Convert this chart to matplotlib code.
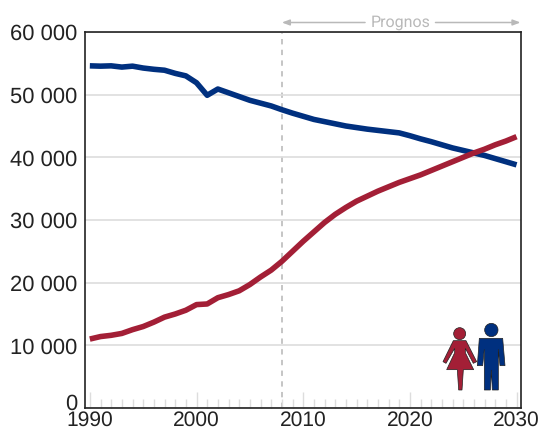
import matplotlib
matplotlib.use("Agg")
import matplotlib.pyplot as plt
from matplotlib.patches import Polygon, Ellipse
from matplotlib.ticker import FuncFormatter, MultipleLocator
from matplotlib.transforms import ScaledTranslation

plt.rcParams['font.family'] = ['Liberation Sans', 'DejaVu Sans']
plt.rcParams['text.hinting'] = 'none'
plt.rcParams['text.hinting_factor'] = 1

years = list(range(1990, 2031))
men = [54600, 54550, 54600, 54400, 54550, 54250, 54050, 53900, 53400, 53000,
       51900, 49900, 50900, 50300, 49700, 49100, 48650, 48200, 47600, 47050,
       46550, 46050, 45700, 45350, 45000, 44750, 44500, 44300, 44100, 43900,
       43450, 42950, 42500, 42000, 41500, 41100, 40700, 40300, 39800, 39300, 38800]
women = [11000, 11400, 11600, 11900, 12500, 13000, 13700, 14500, 15000, 15600,
         16500, 16600, 17600, 18100, 18700, 19700, 20900, 22000, 23400, 25000,
         26600, 28100, 29600, 30900, 32000, 33000, 33800, 34600, 35300, 36000,
         36600, 37200, 37900, 38600, 39300, 40000, 40700, 41300, 42000, 42600, 43300]
forecast_start = 2008
forecast_label = "Prognos"
BLUE, RED = "#00307f", "#a31f36"
W, H = 539, 430

fig = plt.figure(figsize=(W/100, H/100), dpi=100)
ax = fig.add_axes([84.5/W, 1-408/H, 436/W, 376/H])
ax.set_xlim(1989.5, 2030.37)
ax.set_ylim(0, 60000)
ax.yaxis.set_major_locator(MultipleLocator(10000))
ax.yaxis.set_major_formatter(FuncFormatter(lambda v, p: f"{int(v):,}".replace(",", " ")))
ax.xaxis.set_major_locator(MultipleLocator(10))
ax.xaxis.set_minor_locator(MultipleLocator(1))
ax.grid(axis='y', color="#dddddd", lw=1.2, zorder=0)
ax.tick_params(axis='y', length=0, labelsize=15.5, pad=5, labelcolor="#222222")
ax.tick_params(axis='x', which='major', direction='in', length=11.5, width=1, color="#dddddd",
               labelsize=15.1, pad=2, labelcolor="#222222")
ax.tick_params(axis='x', which='minor', direction='in', length=6.5, width=1, color="#dddddd")
for s in ax.spines.values():
    s.set_color("#222222")
    s.set_linewidth(1.2)

ax.axvline(forecast_start, color="#b5b5b5", lw=1.1, dashes=(3.5, 3.5), zorder=1)
ax.plot(years, men, color=BLUE, lw=4, solid_capstyle='butt', solid_joinstyle='round', zorder=3)
ax.plot(years, women, color=RED, lw=4, solid_capstyle='butt', solid_joinstyle='round', zorder=3)

# Raise the "0" label clear of the x labels
fig.canvas.draw()
for lab in ax.get_yticklabels():
    if lab.get_text() == "0":
        lab.set_transform(lab.get_transform() + ScaledTranslation(0, 6/100, fig.dpi_scale_trans))

# Prognos arrows above the axes
ytrans = ax.get_xaxis_transform()
arrow = dict(arrowstyle='-|>,head_width=0.17,head_length=0.45', color="#b9b9b9", lw=1.1,
             shrinkA=0, shrinkB=0)
ya = 1 + 9.5/376
ax.annotate("", xy=(forecast_start, ya), xytext=(2015.8, ya), xycoords=ytrans, textcoords=ytrans, arrowprops=arrow)
ax.annotate("", xy=(2030.37, ya), xytext=(2022.4, ya), xycoords=ytrans, textcoords=ytrans, arrowprops=arrow)
ax.text(2019.15, ya, forecast_label, transform=ytrans, ha='center', va='center',
        fontsize=11.5, color="#b9b9b9", family=['Roboto', 'DejaVu Sans'])

# Pictogram (pixel positions)
def px(points):
    return [((420 + x/3)/W, 1 - (310 + y/3)/H) for x, y in points]

woman = [(100,92),(138,92),(170,155),(160,160),(136,115),(136,128),(161,179),(130,179),
         (126,240),(116,240),(112,179),(80,179),(104,128),(104,115),(78,160),(69,155)]
man = [(178,85),(248,85),(255,167),(240,167),(235,118),(235,240),(217,240),(214,180),
       (211,240),(193,240),(193,118),(188,167),(172,167)]
for pts, col in ((woman, RED), (man, BLUE)):
    fig.add_artist(Polygon(px(pts), closed=True, facecolor=col, edgecolor="#222222", lw=0.5,
                           transform=fig.transFigure, zorder=5))
for (cx, cy, r), col in (((119, 71, 18), RED), ((214, 60, 20), BLUE)):
    fig.add_artist(Ellipse(px([(cx, cy)])[0], 2*r/3/W, 2*r/3/H, facecolor=col, edgecolor="#222222",
                           lw=0.5, transform=fig.transFigure, zorder=5))

fig.savefig("out.png", dpi=100)
